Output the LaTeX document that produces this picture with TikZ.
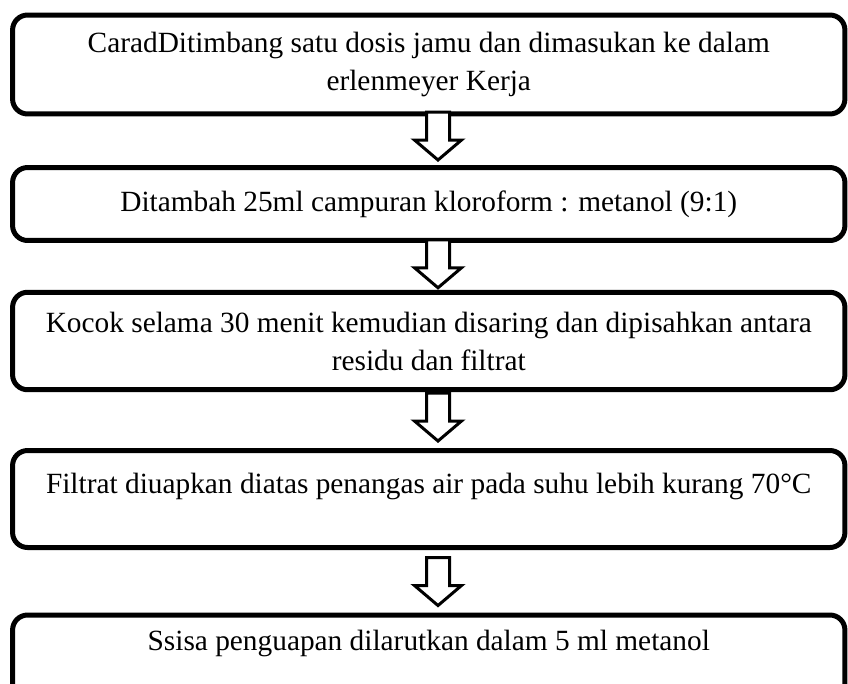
\documentclass[tikz,border=0pt]{standalone}
\usepackage{fontspec}
\setmainfont{Liberation Serif}

\tikzset{
  langkah/.style={draw, line width=0.1cm, rounded corners=0.3cm, minimum width=16.65cm,
    inner sep=0pt, align=center, font=\fontsize{16.7}{21.6}\selectfont},
  panah/.style={draw, line width=0.06cm, fill=white}
}

\begin{document}
\begin{tikzpicture}[x=0.02cm, y=-0.02cm]
  \useasboundingbox (0,0) rectangle (848,683);

  % Boxes
  \node[langkah, minimum height=1.98cm] (b1) at (428.75,64.5)
    {CaradDitimbang satu dosis jamu dan dimasukan ke dalam\\erlenmeyer Kerja};
  \node[langkah, minimum height=1.46cm] (b2) at (428.75,204)
    {Ditambah 25ml campuran kloroform : metanol (9:1)};
  \node[langkah, minimum height=1.95cm] (b3) at (428.75,341)
    {Kocok selama 30 menit kemudian disaring dan dipisahkan antara\\residu dan filtrat};
  \node[langkah, minimum height=1.94cm] (b4) at (428.75,499)
    {Filtrat diuapkan diatas penangas air pada suhu lebih kurang 70°C\\[-10pt]\strut};
  \node[langkah, minimum height=1.94cm] (b5) at (428.75,663.5)
    {Ssisa penguapan dilarutkan dalam 5 ml metanol\\[-2pt]\strut};

  % Arrows
  \foreach \b/\jarak in {b2/5,b3/2,b4/7,b5/7}
    \draw[panah] ([xshift=0.185cm, yshift=\jarak*0.02cm]\b.north)
      -- ++(-23.5,-20) -- ++(12,0) -- ++(0,-28) -- ++(23,0) -- ++(0,28) -- ++(12,0) -- cycle;
\end{tikzpicture}
\end{document}
